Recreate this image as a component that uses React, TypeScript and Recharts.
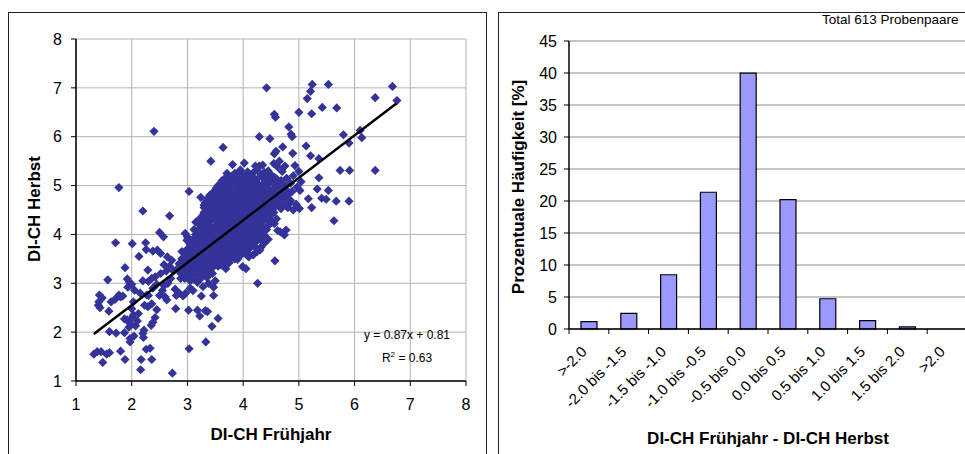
import React from "react";
import {
	Bar,
	BarChart,
	CartesianGrid,
	Scatter,
	ScatterChart,
	XAxis,
	YAxis,
} from "recharts";

// DI-CH Frühjahr (x) / DI-CH Herbst (y)
const outerPairs: [number, number][] = [
	[1.32, 1.55], [1.38, 1.6], [1.45, 1.6], [1.48, 1.38], [1.55, 1.55], [1.6, 1.58], [1.8, 1.61], [1.88, 1.44],
	[2.17, 1.44], [2.16, 1.23], [2.36, 1.44], [2.26, 1.65], [2.33, 1.67],
	[1.6, 2.01], [1.72, 1.98], [1.87, 1.99], [1.97, 1.87], [1.97, 1.8], [2.04, 1.92], [2.21, 1.89], [2.22, 2.04], [2.2, 1.97],
	[1.59, 2.43], [1.4, 2.55], [1.41, 2.62], [1.43, 2.5], [1.42, 2.76], [1.47, 2.7], [1.63, 2.62], [1.7, 2.67],
	[1.77, 2.76], [1.84, 2.74], [1.8, 2.72],
	[1.57, 3.07], [1.88, 3.32], [1.71, 3.83], [2.01, 3.81], [2.13, 3.55], [2.25, 3.83], [2.26, 3.69], [2.38, 3.66], [2.29, 3.27],
	[1.92, 3.09], [1.96, 3.02], [1.93, 2.92], [2.0, 2.98], [2.05, 2.86], [2.15, 2.8], [2.27, 2.76], [2.23, 2.55],
	[2.29, 2.52], [2.03, 2.62], [2.0, 2.48],
	[2.03, 2.35], [2.01, 2.3], [1.97, 2.18], [1.92, 2.25], [2.07, 2.13], [1.87, 2.27], [2.1, 2.23], [2.12, 2.38], [1.95, 2.1],
	[2.35, 2.14], [2.38, 2.2], [2.42, 2.3], [2.45, 2.46], [2.36, 2.58], [2.3, 2.75], [2.2, 3.05], [2.3, 3.04],
	[2.36, 3.1], [2.42, 3.13], [2.38, 2.9], [2.45, 2.98],
	[2.5, 2.75], [2.55, 2.85], [2.6, 2.72], [2.63, 2.66], [2.58, 2.95], [2.65, 3.0], [2.7, 3.1], [2.52, 3.2], [2.62, 3.25],
	[2.5, 4.04], [2.57, 3.95], [2.46, 3.68], [2.52, 3.61], [2.64, 3.54], [2.72, 3.47], [2.68, 3.35], [2.75, 3.25], [2.58, 3.38],
	[1.77, 4.96], [2.2, 4.48], [2.68, 4.38], [2.4, 6.11],
	[2.79, 2.48], [2.73, 1.16], [3.03, 1.66], [3.33, 1.8], [3.44, 2.12], [3.55, 2.28], [3.36, 2.42], [3.32, 2.44],
	[3.22, 2.33], [3.02, 2.45], [3.18, 2.45],
	[2.8, 2.75], [2.85, 2.8], [2.92, 2.74], [2.78, 2.88], [2.97, 2.8], [3.05, 2.9], [3.1, 2.85], [3.25, 2.74],
	[3.47, 2.75], [3.47, 2.92], [3.28, 2.93], [3.38, 3.0], [3.5, 3.05],
	[3.18, 3.02], [3.05, 3.05], [2.95, 3.1], [2.88, 3.2], [3.12, 3.15], [3.22, 3.2], [3.35, 3.12], [3.45, 3.2],
	[3.69, 3.3], [3.99, 3.34], [4.05, 3.3], [4.26, 3.0], [4.57, 3.46],
	[3.03, 4.88], [3.24, 4.76], [3.22, 4.32], [3.3, 4.55], [3.44, 4.77], [3.42, 5.5], [3.64, 5.78], [3.58, 4.93],
	[3.71, 5.25], [3.67, 5.06], [3.81, 5.43], [4.02, 5.46], [4.22, 5.4], [4.35, 5.42], [4.29, 5.4],
	[3.0, 3.95], [3.05, 3.75], [2.9, 3.65], [3.1, 3.55], [2.96, 4.02], [2.99, 3.88], [3.12, 4.1], [3.15, 4.25],
	[4.65, 5.5], [4.7, 5.29], [4.93, 5.41], [4.78, 5.15], [4.85, 5.05], [4.9, 5.2], [4.97, 4.97], [5.04, 5.08],
	[5.0, 5.29], [5.02, 4.9], [4.88, 4.88],
	[4.68, 4.9], [4.8, 4.8], [4.72, 4.62], [4.68, 4.53], [4.8, 4.55], [4.9, 4.5], [5.01, 4.53], [4.95, 4.62],
	[4.85, 4.7], [4.75, 4.75], [4.84, 4.64],
	[4.56, 4.22], [4.5, 4.25], [4.62, 4.08], [4.74, 3.99], [4.77, 4.09], [4.67, 4.05], [4.6, 4.32], [4.55, 4.45],
	[4.42, 4.1], [4.45, 3.9],
	[4.32, 3.74], [4.25, 3.65], [4.1, 3.54], [4.05, 3.6], [3.95, 3.62], [3.85, 3.5], [3.75, 3.42], [3.62, 3.38],
	[3.5, 3.45], [3.42, 3.32], [3.55, 3.35], [4.18, 3.58], [4.38, 3.82],
	[4.42, 7.0], [5.24, 7.07], [5.21, 6.93], [5.15, 6.78], [5.53, 7.07], [6.68, 7.03], [6.76, 6.74], [6.37, 6.8],
	[5.42, 6.6], [5.68, 6.59], [5.0, 6.5], [5.23, 6.47], [4.56, 6.46], [4.58, 6.4], [4.82, 6.2], [4.86, 6.05],
	[4.88, 6.0], [4.29, 6.0], [4.48, 5.96], [5.13, 5.81], [4.71, 5.79], [5.21, 5.61], [4.89, 5.66], [4.59, 5.7],
	[4.56, 5.65], [5.8, 6.04], [5.9, 5.87], [6.1, 6.13], [6.13, 5.98], [6.37, 5.31], [5.91, 5.31], [5.74, 5.31],
	[5.36, 5.55], [5.36, 5.16], [5.33, 4.93], [5.53, 4.9], [5.63, 4.28], [5.67, 4.68], [5.9, 4.68], [5.41, 4.74],
	[5.49, 4.72], [5.23, 4.55], [5.17, 4.73], [4.55, 5.45], [4.62, 5.38], [4.45, 5.3], [4.55, 5.18], [4.75, 5.4],
];

// the dense core round the trend line
const corePairs: [number, number][] = [
	[3.95, 5.32], [4.08, 5.28], [4.25, 5.33], [4.38, 5.27],
	[3.72, 5.2], [3.88, 5.22], [4.02, 5.18], [4.15, 5.21], [4.33, 5.19], [4.5, 5.22],
	[3.62, 5.1], [3.82, 5.12], [3.97, 5.08], [4.1, 5.11], [4.22, 5.09], [4.4, 5.12], [4.55, 5.08], [4.68, 5.1],
	[3.55, 5.0], [3.7, 5.02], [3.85, 4.98], [3.98, 5.01], [4.05, 4.97], [4.18, 5.03], [4.3, 4.99], [4.45, 5.02], [4.6, 4.98], [4.75, 5.0],
	[3.5, 4.9], [3.65, 4.92], [3.78, 4.88], [3.9, 4.91], [4.02, 4.89], [4.12, 4.92], [4.25, 4.88], [4.37, 4.91], [4.52, 4.89], [4.66, 4.92], [4.8, 4.88],
	[3.4, 4.8], [3.55, 4.82], [3.68, 4.78], [3.8, 4.81], [3.93, 4.79], [4.03, 4.82], [4.14, 4.78], [4.27, 4.81], [4.4, 4.79], [4.55, 4.82], [4.7, 4.78],
	[3.35, 4.7], [3.48, 4.72], [3.6, 4.68], [3.72, 4.71], [3.85, 4.69], [3.95, 4.72], [4.07, 4.68], [4.18, 4.71], [4.3, 4.69], [4.45, 4.72], [4.58, 4.68], [4.74, 4.71],
	[3.3, 4.6], [3.45, 4.62], [3.57, 4.58], [3.68, 4.61], [3.8, 4.59], [3.9, 4.62], [4.0, 4.58], [4.1, 4.61], [4.22, 4.59], [4.35, 4.62], [4.5, 4.58], [4.62, 4.61],
	[3.35, 4.5], [3.5, 4.52], [3.62, 4.48], [3.74, 4.51], [3.85, 4.49], [3.96, 4.52], [4.06, 4.48], [4.16, 4.51], [4.28, 4.49], [4.4, 4.52], [4.52, 4.48],
	[3.28, 4.4], [3.42, 4.42], [3.55, 4.38], [3.66, 4.41], [3.78, 4.39], [3.9, 4.42], [4.0, 4.38], [4.12, 4.41], [4.23, 4.39], [4.35, 4.42], [4.48, 4.38],
	[3.3, 4.3], [3.44, 4.32], [3.57, 4.28], [3.7, 4.31], [3.82, 4.29], [3.93, 4.32], [4.03, 4.28], [4.14, 4.31], [4.26, 4.29], [4.38, 4.32], [4.5, 4.28],
	[3.22, 4.2], [3.36, 4.22], [3.5, 4.18], [3.63, 4.21], [3.75, 4.19], [3.87, 4.22], [3.98, 4.18], [4.08, 4.21], [4.2, 4.19], [4.32, 4.22], [4.45, 4.18],
	[3.2, 4.1], [3.33, 4.12], [3.46, 4.08], [3.58, 4.11], [3.7, 4.09], [3.82, 4.12], [3.93, 4.08], [4.04, 4.11], [4.16, 4.09], [4.28, 4.12], [4.4, 4.08],
	[3.15, 4.0], [3.28, 4.02], [3.4, 3.98], [3.53, 4.01], [3.65, 3.99], [3.77, 4.02], [3.88, 3.98], [4.0, 4.01], [4.12, 3.99], [4.25, 4.02], [4.38, 3.98],
	[3.1, 3.9], [3.22, 3.92], [3.36, 3.88], [3.48, 3.91], [3.6, 3.89], [3.72, 3.92], [3.84, 3.88], [3.96, 3.91], [4.08, 3.89], [4.2, 3.92], [4.33, 3.88],
	[3.05, 3.8], [3.18, 3.82], [3.3, 3.78], [3.43, 3.81], [3.55, 3.79], [3.68, 3.82], [3.8, 3.78], [3.92, 3.81], [4.05, 3.79], [4.17, 3.82],
	[3.0, 3.7], [3.12, 3.72], [3.25, 3.68], [3.38, 3.71], [3.5, 3.69], [3.63, 3.72], [3.75, 3.68], [3.88, 3.71], [4.0, 3.69], [4.12, 3.72], [4.3, 3.68],
	[2.95, 3.6], [3.08, 3.62], [3.2, 3.58], [3.33, 3.61], [3.46, 3.59], [3.58, 3.62], [3.7, 3.58], [3.83, 3.61], [3.97, 3.59], [4.08, 3.62],
	[2.9, 3.5], [3.02, 3.52], [3.15, 3.48], [3.28, 3.51], [3.4, 3.49], [3.53, 3.52], [3.65, 3.48], [3.78, 3.51], [3.9, 3.49],
	[2.85, 3.4], [2.98, 3.42], [3.1, 3.38], [3.23, 3.41], [3.36, 3.39], [3.48, 3.42], [3.6, 3.38], [3.72, 3.41],
	[2.82, 3.3], [2.95, 3.32], [3.08, 3.28], [3.2, 3.31], [3.32, 3.29], [3.45, 3.32],
	[2.9, 3.2], [3.03, 3.22], [3.15, 3.18], [3.28, 3.21], [3.4, 3.19],
	[2.88, 3.1], [3.0, 3.12], [3.12, 3.08], [3.25, 3.11],
];

// more of the core, between the rows above
const coreFill: [number, number][] = [
	[3.85, 5.25], [4.0, 5.24], [4.18, 5.26], [4.32, 5.23], [4.45, 5.26],
	[3.68, 5.15], [3.78, 5.16], [3.92, 5.14], [4.05, 5.16], [4.19, 5.14], [4.28, 5.16], [4.45, 5.15], [4.6, 5.14],
	[3.6, 5.05], [3.76, 5.06], [3.9, 5.04], [4.03, 5.06], [4.12, 5.04], [4.24, 5.06], [4.36, 5.04], [4.52, 5.06], [4.65, 5.04],
	[3.52, 4.95], [3.62, 4.96], [3.74, 4.94], [3.84, 4.96], [3.96, 4.94], [4.08, 4.96], [4.2, 4.94], [4.32, 4.96], [4.44, 4.94], [4.58, 4.96], [4.72, 4.94],
	[3.45, 4.85], [3.6, 4.86], [3.72, 4.84], [3.85, 4.86], [3.97, 4.84], [4.08, 4.86], [4.2, 4.84], [4.32, 4.86], [4.46, 4.84], [4.6, 4.86], [4.75, 4.84],
	[3.38, 4.75], [3.52, 4.76], [3.64, 4.74], [3.76, 4.76], [3.88, 4.74], [4.0, 4.76], [4.1, 4.74], [4.22, 4.76], [4.35, 4.74], [4.5, 4.76], [4.64, 4.74],
	[3.32, 4.65], [3.4, 4.66], [3.52, 4.64], [3.64, 4.66], [3.76, 4.64], [3.86, 4.66], [3.96, 4.64], [4.04, 4.66], [4.15, 4.64], [4.26, 4.66], [4.4, 4.64], [4.55, 4.66], [4.68, 4.64],
	[3.32, 4.55], [3.42, 4.56], [3.55, 4.54], [3.68, 4.56], [3.8, 4.54], [3.9, 4.56], [4.01, 4.54], [4.11, 4.56], [4.22, 4.54], [4.34, 4.56], [4.46, 4.54], [4.57, 4.56],
	[3.3, 4.45], [3.45, 4.46], [3.58, 4.44], [3.7, 4.46], [3.82, 4.44], [3.92, 4.46], [4.03, 4.44], [4.14, 4.46], [4.26, 4.44], [4.38, 4.46], [4.5, 4.44],
	[3.35, 4.35], [3.5, 4.36], [3.62, 4.34], [3.74, 4.36], [3.85, 4.34], [3.96, 4.36], [4.07, 4.34], [4.18, 4.36], [4.3, 4.34], [4.42, 4.36],
	[3.26, 4.25], [3.4, 4.26], [3.54, 4.24], [3.66, 4.26], [3.78, 4.24], [3.9, 4.26], [4.0, 4.24], [4.1, 4.26], [4.22, 4.24], [4.35, 4.26], [4.48, 4.24],
	[3.27, 4.15], [3.4, 4.16], [3.53, 4.14], [3.65, 4.16], [3.77, 4.14], [3.88, 4.16], [3.98, 4.14], [4.1, 4.16], [4.22, 4.14], [4.34, 4.16],
	[3.22, 4.05], [3.34, 4.06], [3.47, 4.04], [3.6, 4.06], [3.72, 4.04], [3.83, 4.06], [3.94, 4.04], [4.06, 4.06], [4.18, 4.04], [4.32, 4.06],
	[3.16, 3.95], [3.3, 3.96], [3.42, 3.94], [3.55, 3.96], [3.67, 3.94], [3.78, 3.96], [3.9, 3.94], [4.02, 3.96], [4.14, 3.94], [4.26, 3.96],
	[3.12, 3.85], [3.25, 3.86], [3.38, 3.84], [3.5, 3.86], [3.62, 3.84], [3.74, 3.86], [3.86, 3.84], [3.99, 3.86], [4.1, 3.84], [4.24, 3.86],
	[3.08, 3.75], [3.2, 3.76], [3.32, 3.74], [3.44, 3.76], [3.57, 3.74], [3.7, 3.76], [3.82, 3.74], [3.95, 3.76], [4.06, 3.74], [4.2, 3.76],
	[3.02, 3.65], [3.14, 3.66], [3.27, 3.64], [3.4, 3.66], [3.52, 3.64], [3.64, 3.66], [3.77, 3.64], [3.9, 3.66], [4.02, 3.64],
	[2.98, 3.55], [3.1, 3.56], [3.22, 3.54], [3.35, 3.56], [3.47, 3.54], [3.6, 3.56], [3.72, 3.54], [3.84, 3.56],
	[2.92, 3.45], [3.05, 3.46], [3.17, 3.44], [3.3, 3.46], [3.42, 3.44], [3.55, 3.46], [3.67, 3.44],
	[2.9, 3.35], [3.02, 3.36], [3.15, 3.34], [3.27, 3.36], [3.4, 3.34],
	[2.96, 3.25], [3.1, 3.26], [3.22, 3.24], [3.34, 3.26],
];

// ends of the linear trend y = 0.87x + 0.81
const trendLine = [
	{ x: 1.32, y: 1.96 },
	{ x: 6.75, y: 6.68 },
];

const axisTicks = [1, 2, 3, 4, 5, 6, 7, 8];

// histogram of the differences
const diffClasses = [
	">-2.0",
	"-2.0 bis -1.5",
	"-1.5 bis -1.0",
	"-1.0 bis -0.5",
	"-0.5 bis 0.0",
	"0.0 bis 0.5",
	"0.5 bis 1.0",
	"1.0 bis 1.5",
	"1.5 bis 2.0",
	">2.0",
];
const diffPercent = [1.15, 2.45, 8.48, 21.37, 39.97, 20.23, 4.73, 1.31, 0.33, 0];
const percentTicks = [0, 5, 10, 15, 20, 25, 30, 35, 40, 45];

const FONT = "'Liberation Sans', Arial, sans-serif";
const tickStyle = { fontSize: 16, fill: "#000", fontFamily: FONT };

const scatterData = [...outerPairs, ...corePairs, ...coreFill].map(([x, y]) => ({ x, y }));
const barData = diffClasses.map((name, i) => ({ name, value: diffPercent[i] }));

const Diamond = (props: any) => {
	const { cx, cy } = props;
	const r = 4.6;
	return (
		<polygon points={`${cx},${cy - r} ${cx + r},${cy} ${cx},${cy + r} ${cx - r},${cy}`} fill="#333399" />
	);
};

const BAND = 39.8;

const ClassTick = (props: any) => {
	const { x, y, payload } = props;
	const lx = x - BAND / 2;
	const tx = x - 5;
	const ty = y + 20;
	return (
		<g>
			<line x1={lx} y1={y} x2={lx} y2={y + 5} stroke="#000" />
			<text
				x={tx}
				y={ty}
				dy="0.35em"
				textAnchor="end"
				transform={`rotate(-45 ${tx} ${ty})`}
				fontSize={15}
				fontFamily={FONT}
				fill="#000"
			>
				{payload.value}
			</text>
		</g>
	);
};

const AxisTitle = ({ cx, cy, text, vertical }: { cx: number; cy: number; text: string; vertical?: boolean }) => (
	<div
		style={{
			position: "absolute",
			left: cx,
			top: cy,
			transform: `translate(-50%, -50%)${vertical ? " rotate(-90deg)" : ""}`,
			whiteSpace: "nowrap",
			fontFamily: FONT,
			fontWeight: "bold",
			fontSize: 17,
			color: "#000",
		}}
	>
		{text}
	</div>
);

export default function App() {
	return (
		<div
			style={{
				position: "fixed",
				left: 0,
				top: 0,
				width: 965,
				height: 454,
				overflow: "hidden",
				background: "#fff",
				fontFamily: FONT,
			}}
		>
			{/* left panel */}
			<div style={{ position: "absolute", left: 8, top: 12, width: 477, height: 460, border: "1px solid #222" }} />
			<div style={{ position: "absolute", left: 8, top: 12 }}>
				<ScatterChart width={478} height={450} margin={{ top: 27, right: 20, bottom: 31, left: 38 }}>
					<CartesianGrid stroke="#b3b3b3" />
					<XAxis
						type="number"
						dataKey="x"
						domain={[1, 8]}
						ticks={axisTicks}
						interval={0}
						height={50}
						tick={tickStyle}
						tickSize={5}
						tickMargin={13}
						axisLine={{ stroke: "#000", strokeWidth: 1.5 }}
						tickLine={{ stroke: "#000" }}
					/>
					<YAxis
						type="number"
						dataKey="y"
						domain={[1, 8]}
						ticks={axisTicks}
						interval={0}
						width={30}
						tick={tickStyle}
						tickSize={5}
						tickMargin={9}
						axisLine={{ stroke: "#000", strokeWidth: 1.5 }}
						tickLine={{ stroke: "#000" }}
					/>
					<Scatter data={scatterData} shape={Diamond} isAnimationActive={false} />
					<Scatter
						data={trendLine}
						line={{ stroke: "#000", strokeWidth: 2.5 }}
						shape={() => <g />}
						isAnimationActive={false}
					/>
				</ScatterChart>
			</div>
			<AxisTitle cx={35} cy={209} text="DI-CH Herbst" vertical />
			<AxisTitle cx={271} cy={435} text="DI-CH Frühjahr" />
			<div
				style={{
					position: "absolute",
					left: 407,
					top: 347,
					transform: "translate(-50%, -50%)",
					fontSize: 12,
					textAlign: "center",
					lineHeight: "19px",
					whiteSpace: "nowrap",
				}}
			>
				y = 0.87x + 0.81
				<br />
				R<sup style={{ fontSize: 8 }}>2</sup> = 0.63
			</div>

			{/* right panel */}
			<div style={{ position: "absolute", left: 498, top: 12, width: 500, height: 460, border: "1px solid #222" }} />
			<div style={{ position: "absolute", left: 498, top: 12 }}>
				<BarChart
					width={475}
					height={450}
					data={barData}
					margin={{ top: 29, right: 6, bottom: 33, left: 31 }}
					barSize={16}
				>
					<CartesianGrid stroke="#8c8c8c" vertical={false} />
					<XAxis
						dataKey="name"
						interval={0}
						height={100}
						tick={<ClassTick />}
						tickSize={0}
						tickMargin={0}
						tickLine={false}
						axisLine={{ stroke: "#000", strokeWidth: 1.5 }}
					/>
					<YAxis
						domain={[0, 45]}
						ticks={percentTicks}
						interval={0}
						width={40}
						tick={tickStyle}
						tickSize={5}
						tickMargin={7}
						axisLine={{ stroke: "#000", strokeWidth: 1.5 }}
						tickLine={{ stroke: "#000" }}
					/>
					<Bar dataKey="value" fill="#9999ff" stroke="#000" strokeWidth={1.2} isAnimationActive={false} />
				</BarChart>
			</div>
			<AxisTitle cx={519} cy={187} text="Prozentuale Häufigkeit [%]" vertical />
			<AxisTitle cx={768} cy={439} text="DI-CH Frühjahr - DI-CH Herbst" />
			<div style={{ position: "absolute", left: 822, top: 12, fontSize: 13.5, whiteSpace: "nowrap" }}>
				Total 613 Probenpaare
			</div>
		</div>
	);
}
